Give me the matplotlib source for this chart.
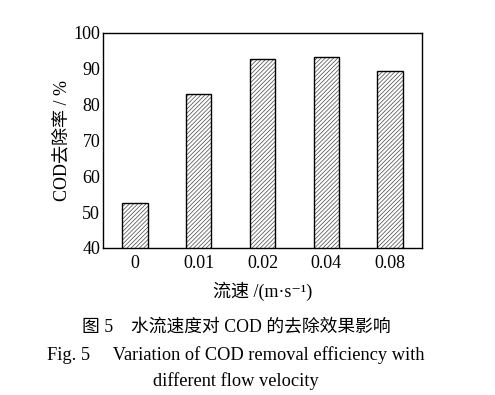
import matplotlib
matplotlib.use("Agg")
import matplotlib.pyplot as plt

categories = ["0", "0.01", "0.02", "0.04", "0.08"]
removal = [52.6, 83.0, 92.7, 93.2, 89.4]
yticks = [40, 50, 60, 70, 80, 90, 100]

FAM = ["Liberation Serif", "Noto Sans CJK SC", "DejaVu Serif"]
plt.rcParams["font.family"] = FAM
plt.rcParams["hatch.linewidth"] = 0.5

fig = plt.figure(figsize=(4.95, 3.95), dpi=100)
ax = fig.add_axes([103/495, 1-248/395, 319/495, 215/395])

x = list(range(len(categories)))
ax.bar(x, removal, width=0.4, color="white", edgecolor="#444444",
       hatch="////////", linewidth=0, zorder=2)
ax.bar(x, removal, width=0.4, color="none", edgecolor="black", linewidth=1.0, zorder=3)

ax.set_xlim(-0.5, 4.5)
ax.set_ylim(40, 100)
ax.set_yticks(yticks)
ax.set_xticks(x)
ax.set_xticklabels(categories)
ax.tick_params(axis="both", labelsize=13, length=0)
ax.tick_params(axis="y", pad=2)
ax.tick_params(axis="x", pad=5)
for s in ax.spines.values():
    s.set_linewidth(1.0)

ax.set_ylabel("COD去除率 / %", fontsize=13, labelpad=2)
ax.set_xlabel("流速 /(m·s⁻¹)", fontsize=13, labelpad=7,
              family=["Liberation Serif", "Noto Sans CJK SC", "DejaVu Serif"])

fig.text(236/495, 1-327/395, "图 5　水流速度对 COD 的去除效果影响", ha="center", va="center", fontsize=12.8)
fig.text(236/495, 1-355/395, "Fig. 5　 Variation of COD removal efficiency with", ha="center", va="center", fontsize=13.2)
fig.text(236/495, 1-381/395, "different flow velocity", ha="center", va="center", fontsize=13.2)

fig.savefig("out.png", dpi=100)
